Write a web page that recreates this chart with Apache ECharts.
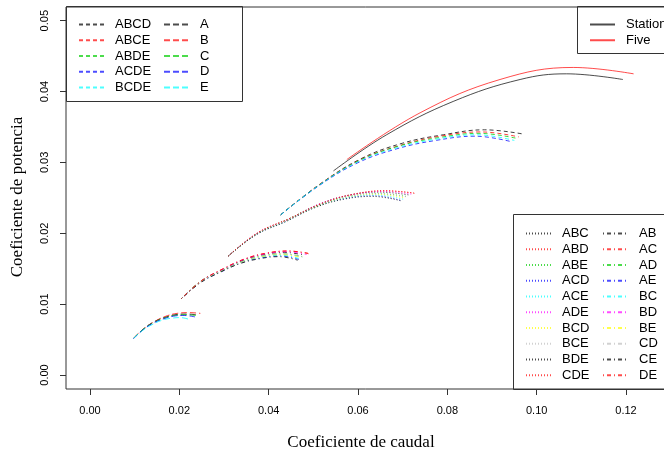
<!DOCTYPE html>
<html><head><meta charset="utf-8">
<script src="https://cdn.jsdelivr.net/npm/echarts@6/dist/echarts.min.js"></script>
<style>html,body{margin:0;padding:0;background:#fff}#c{width:664px;height:456px}</style>
</head><body><div id="c"></div>
<script>
// ---- data ----
const xTicks = [0, 0.02, 0.04, 0.06, 0.08, 0.10, 0.12];
const yTicks = [0, 0.01, 0.02, 0.03, 0.04, 0.05];
const xTitle = 'Coeficiente de caudal';
const yTitle = 'Coeficiente de potencia';

const fullNames = ['Station', 'Five'];
const fullCurves = [
  [[0.0545,0.0288],[0.0664,0.0339],[0.0813,0.0386],[0.0963,0.0417],[0.1067,0.0425],[0.1193,0.0417]],
  [[0.0575,0.0304],[0.0739,0.0370],[0.0918,0.0417],[0.1082,0.0434],[0.1217,0.0425]]
];

const fourNames = ['ABCD','ABCE','ABDE','ACDE','BCDE'];
const fourCurves = [
  [[0.0427,0.0226],[0.0514,0.0269],[0.0606,0.0305],[0.0699,0.0327],[0.0791,0.0339],[0.0883,0.0346],[0.0970,0.0340]],
  [[0.0427,0.0226],[0.0512,0.0268],[0.0603,0.0303],[0.0694,0.0324],[0.0784,0.0337],[0.0875,0.0343],[0.0960,0.0336]],
  [[0.0427,0.0226],[0.0511,0.0267],[0.0601,0.0302],[0.0691,0.0323],[0.0781,0.0335],[0.0871,0.0341],[0.0955,0.0334]],
  [[0.0427,0.0226],[0.0510,0.0266],[0.0598,0.0299],[0.0686,0.0319],[0.0774,0.0331],[0.0862,0.0337],[0.0945,0.0329]],
  [[0.0427,0.0226],[0.0511,0.0267],[0.0600,0.0301],[0.0689,0.0321],[0.0777,0.0333],[0.0866,0.0339],[0.0950,0.0331]]
];

const threeNames = ['ABC','ABD','ABE','ACD','ACE','ADE','BCD','BCE','BDE','CDE'];
const threeCurves = [
  [[0.0310,0.0168],[0.0375,0.0200],[0.0444,0.0220],[0.0513,0.0241],[0.0581,0.0254],[0.0650,0.0258],[0.0715,0.0254]],
  [[0.0310,0.0168],[0.0377,0.0201],[0.0449,0.0221],[0.0520,0.0242],[0.0591,0.0255],[0.0663,0.0260],[0.0730,0.0256]],
  [[0.0310,0.0168],[0.0374,0.0199],[0.0441,0.0219],[0.0509,0.0239],[0.0577,0.0252],[0.0644,0.0256],[0.0708,0.0252]],
  [[0.0310,0.0168],[0.0372,0.0198],[0.0438,0.0217],[0.0504,0.0237],[0.0570,0.0249],[0.0636,0.0253],[0.0698,0.0246]],
  [[0.0310,0.0168],[0.0373,0.0199],[0.0439,0.0217],[0.0506,0.0237],[0.0573,0.0250],[0.0639,0.0254],[0.0702,0.0248]],
  [[0.0310,0.0168],[0.0376,0.0201],[0.0446,0.0220],[0.0516,0.0242],[0.0586,0.0254],[0.0656,0.0259],[0.0722,0.0255]],
  [[0.0310,0.0168],[0.0373,0.0199],[0.0440,0.0218],[0.0508,0.0238],[0.0575,0.0251],[0.0642,0.0255],[0.0705,0.0250]],
  [[0.0310,0.0168],[0.0374,0.0199],[0.0443,0.0219],[0.0511,0.0239],[0.0579,0.0252],[0.0648,0.0256],[0.0712,0.0251]],
  [[0.0310,0.0168],[0.0372,0.0198],[0.0437,0.0216],[0.0503,0.0236],[0.0568,0.0248],[0.0633,0.0252],[0.0695,0.0246]],
  [[0.0310,0.0168],[0.0376,0.0201],[0.0447,0.0221],[0.0518,0.0242],[0.0588,0.0255],[0.0659,0.0260],[0.0725,0.0257]]
];

const twoNames = ['AB','AC','AD','AE','BC','BD','BE','CD','CE','DE'];
const twoCurves = [
  [[0.0205,0.0108],[0.0249,0.0133],[0.0296,0.0148],[0.0343,0.0162],[0.0389,0.0170],[0.0436,0.0173],[0.0480,0.0169]],
  [[0.0205,0.0108],[0.0251,0.0133],[0.0299,0.0150],[0.0348,0.0164],[0.0396,0.0172],[0.0444,0.0175],[0.0490,0.0171]],
  [[0.0205,0.0108],[0.0248,0.0132],[0.0294,0.0147],[0.0340,0.0160],[0.0386,0.0168],[0.0432,0.0171],[0.0475,0.0167]],
  [[0.0205,0.0108],[0.0247,0.0131],[0.0292,0.0145],[0.0337,0.0158],[0.0381,0.0165],[0.0426,0.0168],[0.0468,0.0163]],
  [[0.0205,0.0108],[0.0247,0.0131],[0.0292,0.0146],[0.0338,0.0159],[0.0383,0.0166],[0.0428,0.0169],[0.0470,0.0164]],
  [[0.0205,0.0108],[0.0250,0.0133],[0.0297,0.0149],[0.0345,0.0163],[0.0393,0.0171],[0.0440,0.0174],[0.0485,0.0170]],
  [[0.0205,0.0108],[0.0248,0.0132],[0.0293,0.0146],[0.0339,0.0159],[0.0384,0.0167],[0.0429,0.0170],[0.0472,0.0166]],
  [[0.0205,0.0108],[0.0249,0.0132],[0.0295,0.0147],[0.0342,0.0160],[0.0388,0.0168],[0.0434,0.0171],[0.0478,0.0166]],
  [[0.0205,0.0108],[0.0247,0.0130],[0.0291,0.0145],[0.0335,0.0157],[0.0379,0.0164],[0.0423,0.0167],[0.0465,0.0162]],
  [[0.0205,0.0108],[0.0250,0.0133],[0.0298,0.0150],[0.0347,0.0164],[0.0395,0.0172],[0.0443,0.0175],[0.0488,0.0172]]
];

const oneNames = ['A','B','C','D','E'];
const oneCurves = [
  [[0.0098,0.0052],[0.0120,0.0065],[0.0143,0.0075],[0.0166,0.0081],[0.0190,0.0085],[0.0215,0.0086],[0.0240,0.0085]],
  [[0.0099,0.0053],[0.0122,0.0066],[0.0146,0.0076],[0.0170,0.0083],[0.0195,0.0087],[0.0221,0.0088],[0.0247,0.0087]],
  [[0.0098,0.0052],[0.0120,0.0065],[0.0142,0.0074],[0.0165,0.0080],[0.0188,0.0084],[0.0212,0.0085],[0.0237,0.0084]],
  [[0.0097,0.0051],[0.0119,0.0064],[0.0141,0.0073],[0.0164,0.0079],[0.0187,0.0083],[0.0211,0.0084],[0.0235,0.0082]],
  [[0.0098,0.0052],[0.0118,0.0063],[0.0139,0.0071],[0.0160,0.0077],[0.0181,0.0080],[0.0203,0.0081],[0.0224,0.0078]]
];

// ---- styling ----
const palette = ['#000000','#ff0000','#00cd00','#0000ff','#00ffff','#ff00ff','#ffff00','#bebebe'];
const dashFour = [4, 3];
const dashOne = [6, 3];
const dashThree = [1, 2];
const dashTwo = [1, 3, 4, 3];

function mk(names, curves, dash, opacity) {
  return names.map((n, i) => ({
    name: n, type: 'line', data: curves[i], symbol: 'none', smooth: 0.4,
    color: palette[i % palette.length],
    lineStyle: { width: 1, type: dash, color: palette[i % palette.length], opacity: opacity },
    emphasis: { disabled: true }, animation: false
  }));
}

const series = [].concat(
  mk(fourNames, fourCurves, dashFour, 0.75),
  mk(oneNames, oneCurves, dashOne, 0.75),
  mk(threeNames, threeCurves, dashThree, 0.75),
  mk(twoNames, twoCurves, dashTwo, 0.75),
  mk(fullNames, fullCurves, 'solid', 0.7)
);

const legendText = { color: '#000', fontSize: 13, fontFamily: 'Liberation Sans', padding: [0, 0, 0, 6] };
function lg(data, left, top) {
  return { data: data, orient: 'vertical', left: left, top: top, itemWidth: 25, itemHeight: 12,
    itemGap: 2.75, textStyle: legendText, padding: 0, selectedMode: false,
    lineStyle: { opacity: 0.7 },
    itemStyle: { opacity: 0, color: 'transparent', borderColor: 'transparent', borderWidth: 0 } };
}

const chart = echarts.init(document.getElementById('c'), null, { renderer: 'canvas' });
chart.setOption({
  backgroundColor: '#fff',
  animation: false,
  grid: { left: 66, top: 7, width: 648, height: 382, outerBoundsMode: 'none', containLabel: false,
    show: true, borderColor: '#333', borderWidth: 1, backgroundColor: 'transparent' },
  xAxis: {
    type: 'value', min: -0.00537, max: 0.1397,
    axisLine: { show: false, onZero: false },
    splitLine: { show: false },
    axisTick: { show: true, length: 6, customValues: xTicks, lineStyle: { color: '#333' } },
    axisLabel: { customValues: xTicks, margin: 16, fontSize: 11, fontFamily: 'Liberation Sans', color: '#000',
      formatter: v => v.toFixed(2) }
  },
  yAxis: {
    type: 'value', min: -0.001976, max: 0.05193,
    axisLine: { show: false, onZero: false },
    splitLine: { show: false },
    axisTick: { show: true, length: 6, customValues: yTicks, lineStyle: { color: '#333' } },
    axisLabel: { customValues: yTicks, margin: 16, rotate: 90, fontSize: 11, fontFamily: 'Liberation Sans', color: '#000',
      formatter: v => v.toFixed(2) }
  },
  legend: [
    lg(fourNames, 78, 18),
    lg(oneNames, 163, 18),
    lg(fullNames, 589, 18),
    lg(threeNames, 525, 227),
    lg(twoNames, 602, 227)
  ],
  graphic: [
    { type: 'rect', shape: { x: 66.5, y: 6.5, width: 176, height: 95 }, style: { fill: 'none', stroke: '#333', lineWidth: 1 }, z: 10 },
    { type: 'rect', shape: { x: 577.5, y: 6.5, width: 200, height: 47 }, style: { fill: 'none', stroke: '#333', lineWidth: 1 }, z: 10 },
    { type: 'rect', shape: { x: 513.5, y: 214.5, width: 200, height: 175 }, style: { fill: 'none', stroke: '#333', lineWidth: 1 }, z: 10 },
    { type: 'text', x: 361, y: 443, style: { text: xTitle, font: '17px "Liberation Serif"', fill: '#000', textAlign: 'center', textVerticalAlign: 'middle' } },
    { type: 'text', x: 18, y: 197, rotation: Math.PI / 2, style: { text: yTitle, font: '17px "Liberation Serif"', fill: '#000', textAlign: 'center', textVerticalAlign: 'middle' } }
  ],
  series: series
});
</script></body></html>
